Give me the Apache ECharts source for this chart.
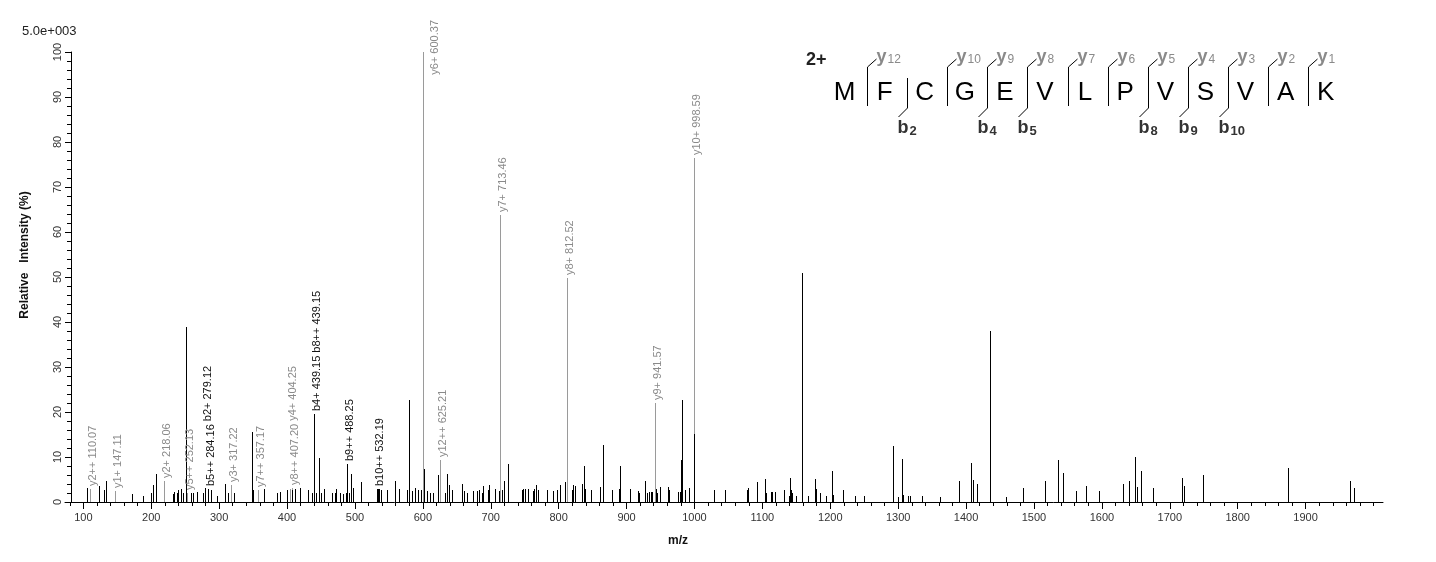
<!DOCTYPE html>
<html>
<head>
<meta charset="utf-8">
<script src="https://cdn.jsdelivr.net/npm/echarts@6/dist/echarts.min.js"></script>
<style>
html,body{margin:0;padding:0;background:#fff;}
#chart{width:1436px;height:562px;}
</style>
</head>
<body>
<div id="chart"></div>
<script>
// ---------------- data ----------------
const peakMz = [105.9,122.6,131,133.4,171,188,199,203,207.5,231.6,234,237.5,240,243.4,246.4,251.7,259,262,268,276,287.6,297,309,313.5,321.5,348,349.5,366.6,384.8,389.7,400.5,408,411.8,419,431,437.3,442.7,447.6,450,455,466.7,470.7,472.6,478,483,487,490.9,494.7,496.7,509.4,534,536,538,546.8,559.5,565.4,577.2,580.2,583.6,589,593,597.3,602.2,606.7,610.6,614.6,621.9,632.7,636,639,643.5,658.2,660.7,665.6,673.5,679.4,683.2,686.7,689,695.6,697.5,706.8,711.8,717,720,725,746.5,748,750.5,755.4,762.7,764.2,766.3,770,782.5,792,798,801.6,810,819.2,820.7,824.6,834.9,837.9,839.3,847.3,861.4,865.8,879,889.4,890.9,905.6,917.4,918.9,927.7,930.6,933,935.5,938,943,945.4,949.8,961.6,963,976.3,978.3,979.8,981.3,986.6,992.5,999.3,1029.3,1045.5,1077,1079.4,1091.7,1092.6,1104.5,1106,1112.3,1113.8,1119,1132.4,1139.3,1140.3,1141.8,1143.3,1150,1158,1166.9,1177.6,1179.1,1185.4,1194.3,1203.1,1204.6,1219.3,1237,1250.2,1293,1300.3,1305.3,1306.7,1315,1318,1335.6,1362.2,1390,1406.9,1407.8,1410.7,1416.6,1435.4,1458.4,1484.4,1516.8,1535,1543.3,1562.5,1576.3,1596.4,1631.7,1640.6,1649.4,1652.4,1658.2,1675.9,1718.6,1721.5,1749.5,1874.7,1966,1972];
const peakPct = [3.1,3.5,2.6,4.6,1.8,1.4,2.1,3.8,6.3,1.8,2.3,2.1,2.7,2.8,1.9,39,2,2,2.3,2.1,2.7,1.4,3.9,2.1,2.1,15.5,2.6,2.8,2.1,2.3,2.6,2.7,3,3.2,2.6,2.1,2.1,9.8,2.1,3,2.1,2,3,2.1,1.8,2,2.1,6.2,3.2,4.5,2.8,2.8,2.6,2.6,4.6,3,2.6,22.7,2.4,3.2,2.6,2.6,7.3,2.4,2.1,2.1,5.9,2.1,6.2,3.7,2.6,3.9,2.4,2.1,2.4,2.4,2.7,2.1,3.5,2.6,3.7,3,2.4,2.6,4.6,8.5,2.6,2.8,3,3,2.4,3,3.7,2.7,2.7,2.4,2.6,3.7,4.5,2.7,3.7,3.5,3.9,7.9,3,2.7,3.3,12.7,2.6,3,7.9,2.9,2.5,2.1,4.6,2,2.2,2.2,2.2,3,2.1,3.3,3.3,2.6,2.2,2.2,9.4,22.7,2.7,3.1,15.1,2.7,2.6,2.6,3.2,2.6,4.5,5.2,2.1,2.3,2.3,2.3,2.7,1.4,5.3,2.7,2,1.3,51,1.4,5.2,2.9,2.1,1.3,6.8,1.6,2.6,1.3,1.3,12.5,1.1,9.6,1.6,1.4,1.3,1.3,1.1,4.7,8.7,2.7,4.8,3.9,38,1.1,3.2,4.7,9.4,6.4,2.5,3.5,2.4,3.9,4.6,10,3.3,7,3.2,5.4,3.5,6,7.6,4.7,3.2];

const ionNames = ['y2++ 110.07','y1+ 147.11','y2+ 218.06','y5++ 252.13','b2+ 279.12','b5++ 284.16','y3+ 317.22','y7++ 357.17','y4+ 404.25','y8++ 407.20','b4+ 439.15','b8++ 439.15','b9++ 488.25','b10++ 532.19','y6+ 600.37','y12++ 625.21','y7+ 713.46','y8+ 812.52','y9+ 941.57','y10+ 998.59'];
const ionMz = [110.07,147.11,218.06,252.13,279.12,284.16,317.22,357.17,404.25,407.20,439.15,439.15,488.25,532.19,600.37,625.21,713.46,812.52,941.57,998.59];
const ionPct = [3.0,2.4,4.7,1.9,3.2,3.0,3.8,2.6,3.0,3.2,19.5,19.5,8.5,3.0,100,9.4,63.8,49.8,22,76.4];

const xTickLabels = [100,200,300,400,500,600,700,800,900,1000,1100,1200,1300,1400,1500,1600,1700,1800,1900];
const yTickLabels = [0,10,20,30,40,50,60,70,80,90,100];

const peptide = ['M','F','C','G','E','V','L','P','V','S','V','A','K'];
const yObserved = [12,10,9,8,7,6,5,4,3,2,1];
const bObserved = [2,4,5,8,9,10];
const chargeText = '2+';
const scaleText = '5.0e+003';

// ---------------- helpers ----------------
const X_MIN = 73, X_MAX = 2014;
const FONT = '"Liberation Sans", Arial, sans-serif';
function range(a, b, s) { const r = []; for (let v = a; v <= b + 1e-9; v += s) r.push(v); return r; }
const measureCtx = document.createElement('canvas').getContext('2d');
function textWidth(t, font) { measureCtx.font = font; return measureCtx.measureText(t).width; }

const GREY_LINE = '#9a9a9a', GREY_TEXT = '#8a8a8a';

function stick(color) {
  return function (params, api) {
    const x = api.value(0), y = api.value(1);
    const p0 = api.coord([x, 0]), p1 = api.coord([x, y]);
    const px = Math.round(p0[0]) + 0.5;
    return { type: 'line', silent: true,
      shape: { x1: px, y1: Math.round(p0[1]), x2: px, y2: Math.round(p1[1]) },
      style: { stroke: typeof color === 'function' ? color(params.dataIndex) : color, lineWidth: 1 } };
  };
}
const ionColor = i => ionNames[i][0] === 'y' ? GREY_LINE : '#000';

let layoutCache = null;
const LABEL_FONT = '11px ' + FONT;
function computeLayout(api) {
  const order = ionMz.map((m, i) => i).sort((a, b) => (ionMz[b] - ionMz[a]) || (a - b));
  const topLimit = api.coord([X_MIN, 100])[1] - 32;
  const placed = [], res = [];
  for (const i of order) {
    const p = api.coord([ionMz[i], ionPct[i]]);
    let x = Math.round(p[0]) + 2.5;
    let bottom = Math.round(p[1]) - 3;
    const L = textWidth(ionNames[i], LABEL_FONT);
    let moved = true, guard = 0;
    while (moved && guard++ < 50) {
      moved = false;
      for (const b of placed) {
        if (Math.abs(b.x - x) < 11 && bottom > b.top && bottom - L < b.bottom) {
          bottom = b.top - 3; moved = true;
        }
      }
    }
    if (bottom - L < topLimit) { x += 9; bottom = topLimit + L; }
    placed.push({ x, top: bottom - L, bottom });
    res[i] = { x, y: bottom };
  }
  return res;
}
function labelItem(params, api) {
  if (params.dataIndex === 0 || !layoutCache) layoutCache = computeLayout(api);
  const i = params.dataIndex;
  const pos = layoutCache[i];
  return { type: 'text', silent: true, x: pos.x, y: pos.y, rotation: Math.PI / 2,
    style: { text: ionNames[i], font: LABEL_FONT, fill: ionNames[i][0] === 'y' ? GREY_TEXT : '#111',
      align: 'left', verticalAlign: 'middle' } };
}

// ---------------- peptide graphic ----------------
const graphics = [];
const seqX0 = 844.5, step = 40.1, letterY = 93;
peptide.forEach((aa, k) => {
  graphics.push({ type: 'text', x: seqX0 + k * step, y: letterY, silent: true,
    style: { text: aa, font: '26px ' + FONT, fill: '#000', align: 'center', verticalAlign: 'middle' } });
});
for (let s = 1; s < peptide.length; s++) {
  const sx = Math.round(seqX0 + (s - 1) * step + 22.5) + 0.5;
  const yi = peptide.length - s;
  const hasY = yObserved.includes(yi), hasB = bObserved.includes(s);
  const pts = [];
  if (hasY) { pts.push([sx + 9, 59]); pts.push([sx, 67]); } else pts.push([sx, 78]);
  if (hasB) { pts.push([sx, 108]); pts.push([sx - 9, 117]); } else pts.push([sx, 106]);
  graphics.push({ type: 'polyline', silent: true, shape: { points: pts }, style: { stroke: '#000', lineWidth: 1, fill: null } });
  if (hasY) {
    graphics.push({ type: 'text', x: sx + 9, y: 57, silent: true,
      style: { text: '{a|y}{n|' + yi + '}', align: 'left', verticalAlign: 'middle',
        rich: { a: { font: 'bold 18px ' + FONT, fill: GREY_TEXT }, n: { font: '12px ' + FONT, fill: GREY_TEXT, padding: [6, 0, 0, 1] } } } });
  }
  if (hasB) {
    graphics.push({ type: 'text', x: sx - 10, y: 128, silent: true,
      style: { text: '{a|b}{n|' + s + '}', align: 'left', verticalAlign: 'middle',
        rich: { a: { font: 'bold 18px ' + FONT, fill: '#333' }, n: { font: 'bold 13px ' + FONT, fill: '#333', padding: [6, 0, 0, 1] } } } });
  }
}
graphics.push({ type: 'text', x: 806, y: 60, silent: true,
  style: { text: chargeText, font: 'bold 18px ' + FONT, fill: '#222', align: 'left', verticalAlign: 'middle' } });
graphics.push({ type: 'text', x: 22, y: 31, silent: true,
  style: { text: scaleText, font: '13px ' + FONT, fill: '#222', align: 'left', verticalAlign: 'middle' } });
graphics.push({ type: 'text', x: 25, y: 255, rotation: Math.PI / 2, silent: true,
  style: { text: 'Relative   Intensity (%)', font: 'bold 12px ' + FONT, fill: '#111', align: 'center', verticalAlign: 'middle' } });
graphics.push({ type: 'text', x: 678, y: 541, silent: true,
  style: { text: 'm/z', font: 'bold 12px ' + FONT, fill: '#111', align: 'center', verticalAlign: 'middle' } });

// ---------------- chart ----------------
const chart = echarts.init(document.getElementById('chart'), null, { renderer: 'canvas' });
const axisLineStyle = { color: '#000', width: 1 };
const plain = v => String(v);
const option = {
  animation: false,
  backgroundColor: '#fff',
  grid: { left: 65, right: 53, top: 52, bottom: 60, containLabel: false },
  xAxis: [
    { type: 'value', min: X_MIN, max: X_MAX, position: 'bottom',
      axisLine: { show: true, onZero: false, lineStyle: axisLineStyle },
      axisTick: { show: true, customValues: range(80, 2000, 20), length: 4, lineStyle: axisLineStyle },
      axisLabel: { show: true, customValues: xTickLabels, formatter: plain, fontSize: 11, fontFamily: FONT, color: '#333', margin: 10 },
      splitLine: { show: false } },
    { type: 'value', min: X_MIN, max: X_MAX, position: 'bottom',
      axisLine: { show: false, onZero: false },
      axisTick: { show: true, customValues: xTickLabels, length: 7, lineStyle: axisLineStyle },
      axisLabel: { show: false }, splitLine: { show: false } }
  ],
  yAxis: [
    { type: 'value', min: 0, max: 100, offset: -6, position: 'left',
      axisLine: { show: true, onZero: false, lineStyle: axisLineStyle },
      axisTick: { show: true, customValues: range(0, 100, 2), length: 4, lineStyle: axisLineStyle },
      axisLabel: { show: true, customValues: yTickLabels, formatter: plain, rotate: 90, fontSize: 11, fontFamily: FONT, color: '#333', margin: 8 },
      splitLine: { show: false } },
    { type: 'value', min: 0, max: 100, offset: -6, position: 'left',
      axisLine: { show: false, onZero: false },
      axisTick: { show: true, customValues: yTickLabels, length: 6, lineStyle: axisLineStyle },
      axisLabel: { show: false }, splitLine: { show: false } }
  ],
  series: [
    { type: 'custom', name: 'ion lines', coordinateSystem: 'cartesian2d', xAxisIndex: 0, yAxisIndex: 0, z: 2,
      renderItem: stick(ionColor), data: ionMz.map((m, i) => [m, ionPct[i]]), silent: true },
    { type: 'custom', name: 'peaks', coordinateSystem: 'cartesian2d', xAxisIndex: 0, yAxisIndex: 0, z: 3,
      renderItem: stick('#000'), data: peakMz.map((m, i) => [m, peakPct[i]]), silent: true },
    { type: 'custom', name: 'ion labels', coordinateSystem: 'cartesian2d', xAxisIndex: 0, yAxisIndex: 0, z: 4,
      renderItem: labelItem, data: ionMz.map((m, i) => [m, ionPct[i]]), silent: true }
  ],
  graphic: { elements: graphics }
};
chart.setOption(option);
</script>
</body>
</html>
